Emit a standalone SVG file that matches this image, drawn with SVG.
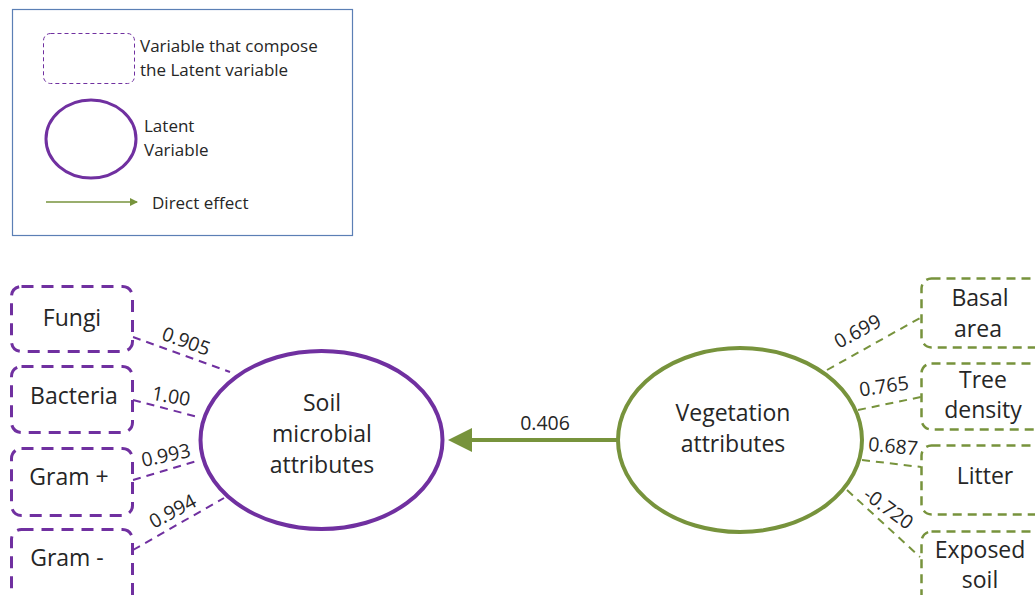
<svg xmlns="http://www.w3.org/2000/svg" width="1035" height="595" viewBox="0 0 1035 595">
<defs>
<marker id="bigArrow" markerWidth="6" markerHeight="6" refX="1" refY="3" orient="auto" markerUnits="strokeWidth"><path d="M0,0 L6,3 L0,6 Z" fill="#77933c"/></marker>
<marker id="smallArrow" markerWidth="8" markerHeight="8" refX="7" refY="4" orient="auto" markerUnits="userSpaceOnUse"><path d="M0,0 L8,4 L0,8 Z" fill="#77933c"/></marker>
</defs>
<style>
text{font-family:"Open Sans","Liberation Sans",sans-serif;fill:#262626}
.leg{font-size:17px}
.node{font-size:23px;text-anchor:middle}
.num{font-size:19.5px;text-anchor:middle}
.pbox{fill:#fff;stroke:#7030a0;stroke-width:3;stroke-dasharray:12 8}
.gbox{fill:#fff;stroke:#77933c;stroke-width:2.5;stroke-dasharray:9 6}
.pcon{stroke:#7030a0;stroke-width:2;stroke-dasharray:8 6;fill:none}
.gcon{stroke:#77933c;stroke-width:2;stroke-dasharray:8 6;fill:none}
</style>
<rect width="1035" height="595" fill="#fff"/>

<g id="legend">
<rect x="12.5" y="9.5" width="340" height="226" fill="#fff" stroke="#5b7fb5" stroke-width="1.2"/>
<rect x="43.5" y="33.5" width="91" height="50" rx="7" fill="none" stroke="#7030a0" stroke-width="1" stroke-dasharray="4 3"/>
<text class="leg" x="140" y="52">Variable that compose</text>
<text class="leg" x="140" y="76">the Latent variable</text>
<ellipse cx="91" cy="139" rx="45" ry="39" fill="none" stroke="#7030a0" stroke-width="3"/>
<text class="leg" x="144" y="132">Latent</text>
<text class="leg" x="144" y="156">Variable</text>
<line x1="46" y1="202" x2="137" y2="202" stroke="#77933c" stroke-width="1.3" marker-end="url(#smallArrow)"/>
<text class="leg" x="152" y="209">Direct effect</text>
</g>

<g id="connectors">
<line class="pcon" x1="133" y1="337" x2="230" y2="372"/>
<line class="pcon" x1="133" y1="400" x2="198" y2="417"/>
<line class="pcon" x1="133" y1="480" x2="200" y2="460"/>
<line class="pcon" x1="133" y1="550" x2="224" y2="498"/>
<line class="gcon" x1="827" y1="370" x2="920" y2="318"/>
<line class="gcon" x1="858" y1="410" x2="921" y2="397"/>
<line class="gcon" x1="862" y1="460" x2="921" y2="467"/>
<line class="gcon" x1="847" y1="490" x2="920" y2="557"/>
<line x1="617" y1="440" x2="468" y2="440" stroke="#77933c" stroke-width="4" marker-end="url(#bigArrow)"/>
<text class="num" x="545" y="430">0.406</text>
<text class="num" transform="translate(186 342) rotate(20)" y="6">0.905</text>
<text class="num" transform="translate(171 397) rotate(10)" y="6">1.00</text>
<text class="num" transform="translate(166 456) rotate(-12)" y="6">0.993</text>
<text class="num" transform="translate(173 512) rotate(-28)" y="6">0.994</text>
<text class="num" transform="translate(858 332) rotate(-28)" y="6">0.699</text>
<text class="num" transform="translate(884 387) rotate(-8)" y="6">0.765</text>
<text class="num" transform="translate(893 447) rotate(5)" y="6">0.687</text>
<text class="num" transform="translate(888 509) rotate(36)" y="6">-0.720</text>
</g>

<g id="fungi"><rect class="pbox" x="11.5" y="286.5" width="121" height="65" rx="10"/><text class="node" x="72" y="326">Fungi</text></g>
<g id="bacteria"><rect class="pbox" x="11.5" y="366.5" width="121" height="66" rx="10"/><text class="node" x="74" y="404">Bacteria</text></g>
<g id="gramplus"><rect class="pbox" x="11.5" y="448.5" width="121" height="67" rx="10"/><text class="node" x="69" y="485">Gram +</text></g>
<g id="gramminus"><rect class="pbox" x="11.5" y="529.5" width="121" height="80" rx="10"/><text class="node" x="67" y="566">Gram -</text></g>

<g id="soil"><ellipse cx="321.5" cy="440" rx="121" ry="89" fill="#fff" stroke="#7030a0" stroke-width="4"/>
<text class="node" x="322" y="411">Soil</text><text class="node" x="322" y="442">microbial</text><text class="node" x="322" y="473">attributes</text></g>

<g id="vegetation"><ellipse cx="740" cy="440" rx="122" ry="92" fill="#fff" stroke="#77933c" stroke-width="4"/>
<text class="node" x="733" y="421">Vegetation</text><text class="node" x="733" y="452">attributes</text></g>

<g id="basal"><rect class="gbox" x="921.5" y="278.5" width="130" height="69" rx="10"/><text class="node" x="980" y="306">Basal</text><text class="node" x="978" y="337">area</text></g>
<g id="tree"><rect class="gbox" x="921.5" y="363.5" width="130" height="66" rx="10"/><text class="node" x="983" y="388">Tree</text><text class="node" x="983" y="418">density</text></g>
<g id="litter"><rect class="gbox" x="921.5" y="445.5" width="130" height="69" rx="10"/><text class="node" x="985" y="484">Litter</text></g>
<g id="exposed"><rect class="gbox" x="921.5" y="531.5" width="130" height="80" rx="10"/><text class="node" x="980" y="558">Exposed</text><text class="node" x="980" y="588">soil</text></g>
</svg>
